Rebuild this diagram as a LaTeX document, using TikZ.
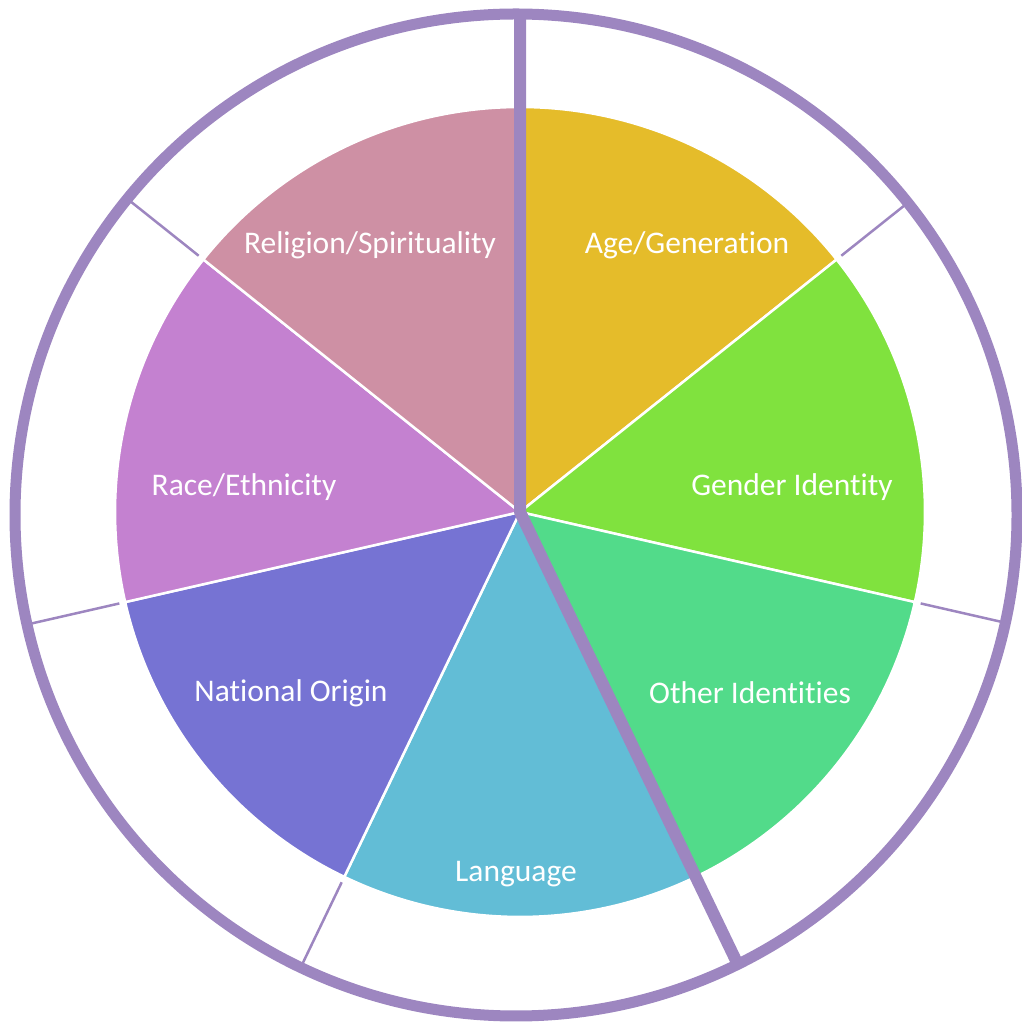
\documentclass[tikz,border=0pt]{standalone}
\usepackage{fontspec}
\setmainfont{Carlito}[Ligatures=NoCommon]
\usetikzlibrary{positioning}
\definecolor{ageC}{HTML}{E5BC2A}
\definecolor{genderC}{HTML}{80E23E}
\definecolor{otherC}{HTML}{52DB8A}
\definecolor{langC}{HTML}{62BDD6}
\definecolor{natC}{HTML}{7673D3}
\definecolor{raceC}{HTML}{C481D0}
\definecolor{relC}{HTML}{CE90A4}
\definecolor{ringC}{HTML}{9D86C0}
\begin{document}
\begin{tikzpicture}[line cap=butt,line join=round,x=1pt,y=1pt,
  lbl/.style={text=white,font=\fontsize{31.5}{36}\selectfont,inner sep=0pt}]
\useasboundingbox (0,0) rectangle (1021,1026);
\coordinate (c) at (520,514);
\coordinate (o) at (516,511);
% sectors
\foreach \k/\col in {0/ageC,1/genderC,2/otherC,3/langC,4/natC,5/raceC,6/relC}
\filldraw[fill=\col,draw=white,line width=2.5pt] (c) -- ++({90-\k*360/7}:405)
  arc[start angle={90-\k*360/7},delta angle={-360/7},radius=405] -- cycle;
% spokes of the ring
\begin{scope}
\clip (o) circle (501);
\foreach \k in {1,2,4,5,6}
\draw[ringC,line width=2.5pt] ([shift={({90-\k*360/7}:411)}]c) -- ([shift={({90-\k*360/7}:540)}]c);
\draw[ringC,line width=12pt] ([shift={(90:540)}]c) -- (c) -- ([shift={({90-3*360/7}:540)}]c);
\end{scope}
\draw[ringC,line width=11pt] (o) circle (501);
% labels
\node[lbl] (age) at (687,781) {Age/Generation};
\node[lbl] (gender) at (792,539) {Gender Identity};
\node[lbl] (other) at (750,333) {Other Identities};
\node[lbl] (lang) at (516,152) {Language};
\node[lbl] (nat) at (291,333) {National Origin};
\node[lbl] (race) at (244,539) {Race/Ethnicity};
\node[lbl] (rel) at (370,781) {Religion/Spirituality};
\end{tikzpicture}
\end{document}
